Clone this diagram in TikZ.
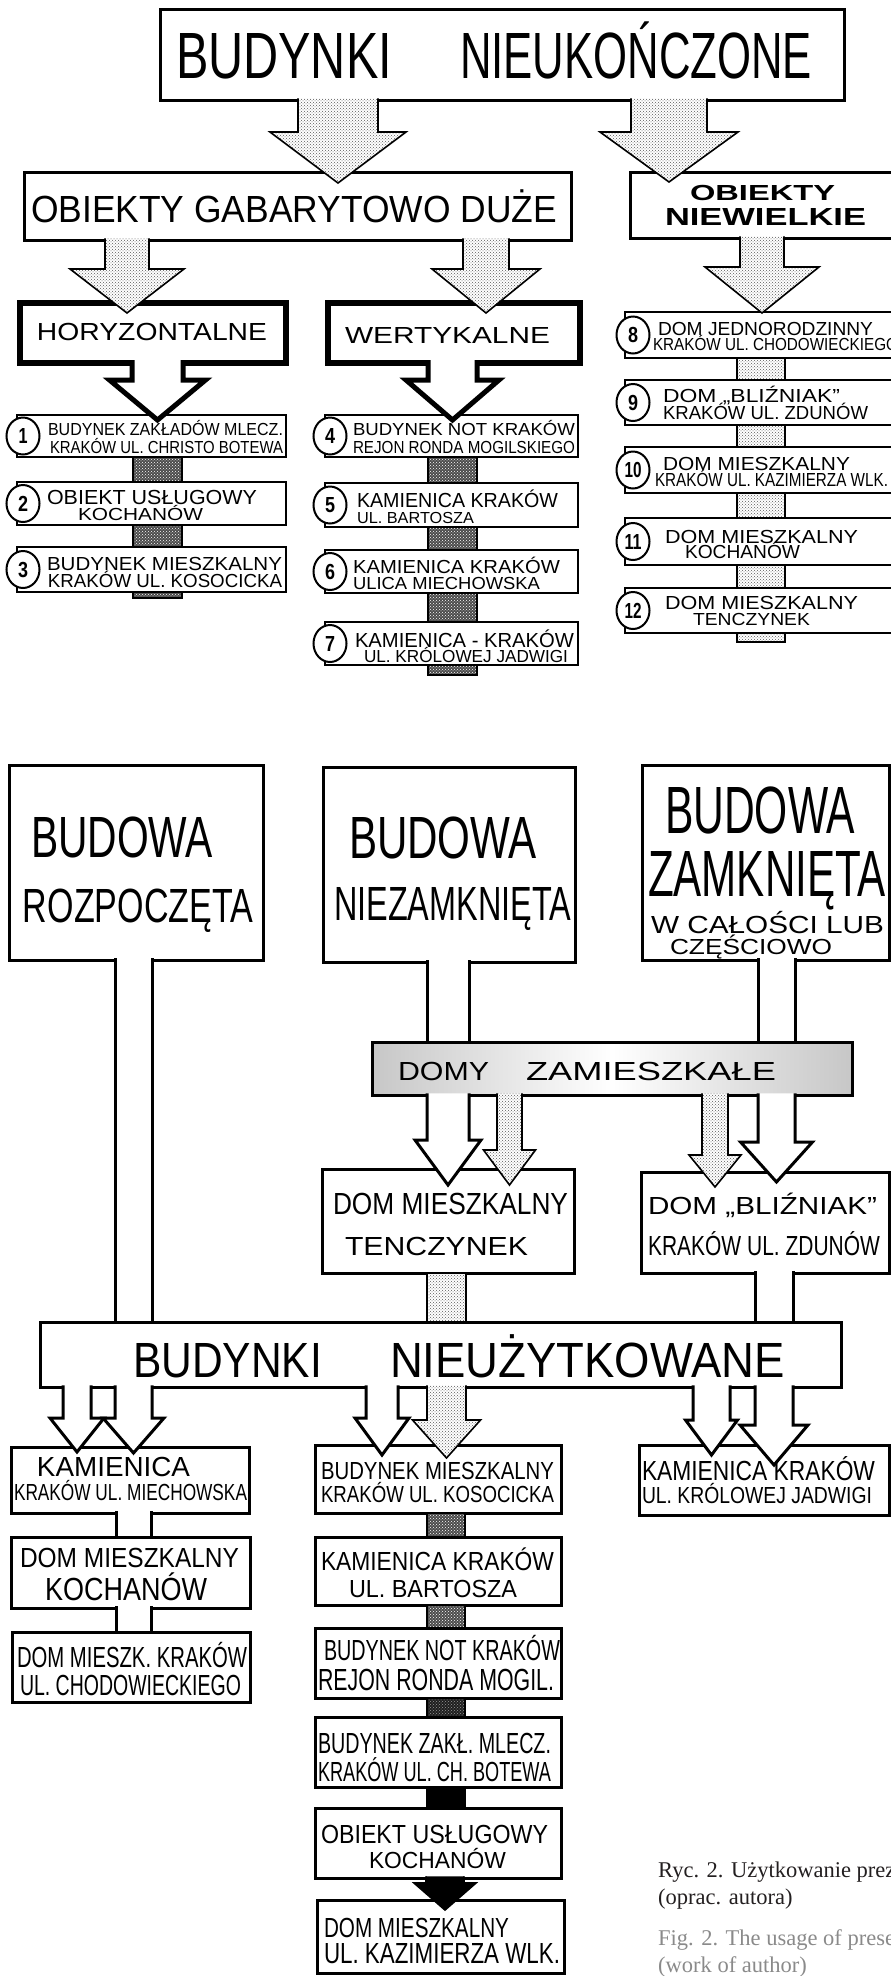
\documentclass[tikz,border=0pt]{standalone}
\usepackage{fontspec}
\newfontfamily\handfont{Liberation Sans}
\newfontfamily\captfont{Liberation Serif}
\usetikzlibrary{calc,patterns,shapes.geometric}
\definecolor{capgray}{HTML}{8A8A8A}
\definecolor{capblack}{HTML}{231F20}
\def\bo{1.7}
\newcommand{\lettr}[3]{\resizebox{#1pt}{#2pt}{\vphantom{X}\smash{#3}}}
\newcommand{\bx}[6][]{\node[box,#1,minimum width={(#5-#3)*1pt},minimum height={(#6-#4)*1pt}] (#2) at ({(#3+#5)/2},{(#4+#6)/2}) {};}
\newcommand{\tx}[7][]{\node[txt,#1] (#2) at (#3,#4) {\lettr{#5}{#6}{#7}};}
\newcommand{\barr}[8][]{\draw[#1] ($(#4-#5,0 |- #2.south)+(0,-\bo)$) -- ($(#4-#5,0 |- #3.north)+(0,#8-#7)$) -- ($(#4-#6,0 |- #3.north)+(0,#8-#7)$) -- ($(#4,0 |- #3.north)+(0,#8)$) -- ($(#4+#6,0 |- #3.north)+(0,#8-#7)$) -- ($(#4+#5,0 |- #3.north)+(0,#8-#7)$) -- ($(#4+#5,0 |- #2.south)+(0,-\bo)$);}
\newcommand{\hshaft}[4]{\fill[white] ($(#3-#4,0 |- #1.south)+(0,-\bo)$) rectangle ($(#3+#4,0 |- #2.north)+(0,-1.5)$);
  \draw[hline] ($(#3-#4,0 |- #1.south)+(0,-\bo)$) -- ($(#3-#4,0 |- #2.north)+(0,-1)$) ($(#3+#4,0 |- #1.south)+(0,-\bo)$) -- ($(#3+#4,0 |- #2.north)+(0,-1)$);}
\newcommand{\sbar}[5][]{\draw[#1] (#4-#5,0 |- #2.south) rectangle (#4+#5,0 |- #3.north);}

\begin{document}
\begin{tikzpicture}[x=1pt,y=-1pt,
  box/.style={draw,rectangle,fill=white,line width=3pt,inner sep=0pt,outer sep=0pt},
  heavybox/.style={box,line width=5.5pt},
  ibox/.style={box,line width=2.4pt},
  domybox/.style={box,left color=black!22,right color=black!22,middle color=white},
  txt/.style={inner sep=0pt,outer sep=0pt,anchor=north west,font=\handfont},
  numc/.style={ellipse,draw,fill=white,line width=2pt,minimum width=33pt,minimum height=37pt,inner sep=0pt,font=\handfont\bfseries},
  capt/.style={inner sep=0pt,anchor=base west,text=capblack,font=\captfont\fontsize{22.5}{27}\selectfont},
  stip/.style={draw,line width=1.6pt,line join=miter,preaction={fill=white},pattern=crosshatch dots,pattern color=black!65},
  dstip/.style={draw,line width=1.6pt,preaction={fill=black!70},pattern=crosshatch dots,pattern color=white},
  xstip/.style={draw,line width=1.6pt,preaction={fill=black!88},pattern=crosshatch dots,pattern color=black!40},
  blk/.style={draw,fill=black,line width=1.6pt,line join=miter},
  hollow/.style={draw,fill=white,line width=3pt,line join=miter},
  hhollow/.style={hollow,line width=5pt},
  hline/.style={line width=3pt}]
\useasboundingbox (0,0) rectangle (891,1976);
%%%%% START %%%%%
% boxes, upper scheme
\bx{top}{160}{9}{844}{100}
\bx{gab}{24}{172}{571}{240}
\bx{niew}{630}{172}{895}{238}
\bx[heavybox]{hor}{20}{303}{286}{363}
\bx[heavybox]{wer}{328}{303}{580}{363}
\bx[ibox]{it1}{17}{415}{286}{457}
\bx[ibox]{it2}{17}{482}{286}{525}
\bx[ibox]{it3}{17}{547}{286}{592}
\bx[ibox]{it4}{325}{415}{578}{457}
\bx[ibox]{it5}{325}{483}{578}{527}
\bx[ibox]{it6}{325}{550}{578}{593}
\bx[ibox]{it7}{325}{622}{578}{665}
\bx[ibox]{it8}{625}{312}{895}{358}
\bx[ibox]{it9}{625}{380}{895}{425}
\bx[ibox]{it10}{625}{447}{895}{493}
\bx[ibox]{it11}{625}{518}{895}{565}
\bx[ibox]{it12}{625}{588}{895}{633}

% boxes, lower scheme
\bx{roz}{9}{765}{263}{960}
\bx{niez}{323}{767}{575}{962}
\bx{zamk}{642}{765}{889}{960}
\bx[domybox]{domy}{372}{1042}{852}{1095}
\bx{tenc}{322}{1169}{574}{1273}
\bx{bliz}{641}{1172}{889}{1273}
\bx{nieuz}{40}{1322}{841}{1387}
\bx{miech}{11}{1447}{249}{1513}
\bx{kos}{315}{1445}{561}{1513}
\bx{jadw}{639}{1445}{889}{1515}
\bx{koch}{11}{1537}{250}{1608}
\bx{chod}{12}{1632}{250}{1702}
\bx{bart}{315}{1537}{561}{1605}
\bx{mogil}{315}{1628}{561}{1698}
\bx{botew}{315}{1717}{561}{1787}
\bx{uslug}{315}{1808}{561}{1878}
\bx{kazim}{317}{1900}{564}{1973}

% arrows, upper scheme
\barr[stip]{top}{gab}{338}{40}{68}{51}{11}
\barr[stip]{top}{niew}{669}{38}{69}{50}{10}
\barr[stip]{gab}{hor}{127}{22}{57}{44}{10}
\barr[stip]{gab}{wer}{486}{23}{54}{44}{10}
\barr[stip]{niew}{it8}{762}{22}{57}{46}{1}
\def\bo{3}
\barr[hhollow]{hor}{it1}{157.5}{25.5}{48}{40}{5}
\barr[hhollow]{wer}{it4}{452.5}{24.5}{46.5}{40}{5}
\def\bo{1.7}
\sbar[dstip]{it1}{it2}{157.5}{24.5}
\sbar[dstip]{it2}{it3}{157.5}{24.5}
\draw[dstip] (133,0 |- it3.south) rectangle (182,598);
\sbar[dstip]{it4}{it5}{452.5}{24.5}
\sbar[dstip]{it5}{it6}{452.5}{24.5}
\sbar[dstip]{it6}{it7}{452.5}{24.5}
\draw[dstip] (428,0 |- it7.south) rectangle (477,675);
\sbar[stip]{it8}{it9}{761}{24}
\sbar[stip]{it9}{it10}{761}{24}
\sbar[stip]{it10}{it11}{761}{24}
\sbar[stip]{it11}{it12}{761}{24}
\draw[stip] (737,0 |- it12.south) rectangle (785,642);

% arrows, lower scheme
\hshaft{roz}{nieuz}{133.5}{18.5}
\hshaft{niez}{domy}{448}{21}
\hshaft{zamk}{domy}{776.5}{18.5}
\barr[hollow]{domy}{tenc}{448}{21}{33}{45}{16}
\barr[stip]{domy}{tenc}{509.5}{12.5}{26}{35}{16}
\barr[hollow]{domy}{bliz}{776.5}{18.5}{36}{40}{10}
\barr[stip]{domy}{bliz}{715}{13}{26}{32}{15}
\sbar[stip]{tenc}{nieuz}{446.5}{19.5}
\hshaft{bliz}{nieuz}{774}{19}
\barr[hollow]{nieuz}{miech}{77}{14}{27}{34}{5}
\barr[hollow]{nieuz}{miech}{133.5}{18.5}{30.5}{35}{6}
\barr[hollow]{nieuz}{kos}{382}{16}{27}{37}{10}
\barr[stip]{nieuz}{kos}{446.5}{19.5}{34}{38}{13}
\barr[hollow]{nieuz}{jadw}{711.5}{18.5}{26}{35}{10}
\barr[hollow]{nieuz}{jadw}{774}{19}{34}{40}{20}
\hshaft{miech}{koch}{133.5}{17.5}
\hshaft{koch}{chod}{133.5}{17.5}
\sbar[dstip]{kos}{bart}{446}{19}
\sbar[dstip]{bart}{mogil}{446}{19}
\sbar[xstip]{mogil}{botew}{446}{19}
\sbar[blk]{botew}{uslug}{446}{19}
\barr[blk]{uslug}{kazim}{445}{19}{31}{27}{10}

% numbers
\node[numc] (c1) at (23,436) {\lettr{9}{15}{1}};
\node[numc] (c2) at (23,503.5) {\lettr{10}{15}{2}};
\node[numc] (c3) at (23,569.5) {\lettr{10}{15}{3}};
\node[numc] (c4) at (330,436) {\lettr{10}{15}{4}};
\node[numc] (c5) at (330,505) {\lettr{10}{15}{5}};
\node[numc] (c6) at (330,571.5) {\lettr{10}{15}{6}};
\node[numc] (c7) at (330,643.5) {\lettr{10}{15}{7}};
\node[numc] (c8) at (633,335) {\lettr{10}{15}{8}};
\node[numc] (c9) at (633,402.5) {\lettr{10}{15}{9}};
\node[numc] (c10) at (633,470) {\lettr{17}{15}{10}};
\node[numc] (c11) at (633,541.5) {\lettr{17}{15}{11}};
\node[numc] (c12) at (633,610.5) {\lettr{17}{15}{12}};

% texts, upper scheme
\tx{tTa}{176}{33}{216}{45}{BUDYNKI}
\tx{tTb}{460}{33}{352}{45}{NIEUKOŃCZONE}
\tx{tGab}{31}{196}{526}{26}{OBIEKTY GABARYTOWO DUŻE}
\tx[font=\handfont\bfseries]{tNwa}{690}{185}{145}{15}{OBIEKTY}
\tx[font=\handfont\bfseries]{tNwb}{665}{208}{201}{17}{NIEWIELKIE}
\tx{tHor}{37}{323}{230}{17}{HORYZONTALNE}
\tx{tWer}{345}{327}{205}{16}{WERTYKALNE}
\tx{t1a}{48}{423}{235}{12}{BUDYNEK ZAKŁADÓW MLECZ.}
\tx{t1b}{50}{441}{233}{12}{KRAKÓW UL. CHRISTO BOTEWA}
\tx{t2a}{47}{490}{210}{14}{OBIEKT USŁUGOWY}
\tx{t2b}{78}{508}{125}{12}{KOCHANÓW}
\tx{t3a}{47}{557}{235}{13}{BUDYNEK MIESZKALNY}
\tx{t3b}{48}{574}{234}{13}{KRAKÓW UL. KOSOCICKA}
\tx{t4a}{353}{423}{222}{12}{BUDYNEK NOT KRAKÓW}
\tx{t4b}{353}{441}{222}{12}{REJON RONDA MOGILSKIEGO}
\tx{t5a}{357}{493}{201}{14}{KAMIENICA KRAKÓW}
\tx{t5b}{357}{512}{117}{11}{UL. BARTOSZA}
\tx{t6a}{353}{560}{207}{13}{KAMIENICA KRAKÓW}
\tx{t6b}{353}{577}{187}{12}{ULICA MIECHOWSKA}
\tx{t7a}{355}{633}{219}{14}{KAMIENICA - KRAKÓW}
\tx{t7b}{364}{650}{204}{12}{UL. KRÓLOWEJ JADWIGI}
\tx{t8a}{658}{322}{215}{13}{DOM JEDNORODZINNY}
\tx{t8b}{653}{338}{245}{12}{KRAKÓW UL. CHODOWIECKIEGO}
\tx{t9a}{663}{389}{177}{13}{DOM „BLIŹNIAK”}
\tx{t9b}{663}{406}{205}{13}{KRAKÓW UL. ZDUNÓW}
\tx{t10a}{663}{457}{187}{13}{DOM MIESZKALNY}
\tx{t10b}{655}{473}{233}{13}{KRAKÓW UL. KAZIMIERZA WLK.}
\tx{t11a}{665}{530}{193}{13}{DOM MIESZKALNY}
\tx{t11b}{685}{545}{115}{13}{KOCHANÓW}
\tx{t12a}{665}{596}{193}{13}{DOM MIESZKALNY}
\tx{t12b}{693}{613}{117}{12}{TENCZYNEK}

% texts, lower scheme
\tx{tRa}{31}{817}{182}{40}{BUDOWA}
\tx{tRb}{23}{889}{230}{33}{ROZPOCZĘTA}
\tx{tNa}{349}{817}{188}{41}{BUDOWA}
\tx{tNb}{334}{887}{237}{33}{NIEZAMKNIĘTA}
\tx{tZa}{665}{787}{190}{46}{BUDOWA}
\tx{tZb}{648}{851}{238}{45}{ZAMKNIĘTA}
\tx{tZc}{651}{916}{233}{17}{W CAŁOŚCI LUB}
\tx{tZd}{670}{939}{162}{15}{CZĘŚCIOWO}
\tx{tDa}{398}{1062}{91}{18}{DOMY}
\tx{tDb}{526}{1062}{250}{18}{ZAMIESZKAŁE}
\tx{tTea}{333}{1193}{235}{21}{DOM MIESZKALNY}
\tx{tTeb}{345}{1237}{183}{18}{TENCZYNEK}
\tx{tBla}{648}{1197}{229}{17}{DOM „BLIŹNIAK”}
\tx{tBlb}{648}{1236}{232}{19}{KRAKÓW UL. ZDUNÓW}
\tx{tUa}{133}{1343}{189}{34}{BUDYNKI}
\tx{tUb}{390}{1343}{395}{34}{NIEUŻYTKOWANE}
\tx{tMia}{37}{1457}{153}{19}{KAMIENICA}
\tx{tMib}{14}{1484}{233}{16}{KRAKÓW UL. MIECHOWSKA}
\tx{tKoa}{321}{1462}{233}{17}{BUDYNEK MIESZKALNY}
\tx{tKob}{321}{1486}{233}{16}{KRAKÓW UL. KOSOCICKA}
\tx{tJaa}{642}{1461}{233}{19}{KAMIENICA KRAKÓW}
\tx{tJab}{642}{1487}{230}{16}{UL. KRÓLOWEJ JADWIGI}
\tx{tKca}{20}{1548}{219}{19}{DOM MIESZKALNY}
\tx{tKcb}{45}{1578}{162}{22}{KOCHANÓW}
\tx{tCha}{17}{1647}{230}{20}{DOM MIESZK. KRAKÓW}
\tx{tChb}{20}{1675}{221}{20}{UL. CHODOWIECKIEGO}
\tx{tBaa}{321}{1552}{233}{18}{KAMIENICA KRAKÓW}
\tx{tBab}{349}{1580}{168}{17}{UL. BARTOSZA}
\tx{tMoa}{324}{1640}{236}{20}{BUDYNEK NOT KRAKÓW}
\tx{tMob}{318}{1669}{236}{21}{REJON RONDA MOGIL.}
\tx{tBoa}{318}{1733}{233}{20}{BUDYNEK ZAKŁ. MLECZ.}
\tx{tBob}{318}{1762}{233}{19}{KRAKÓW UL. CH. BOTEWA}
\tx{tUsa}{321}{1825}{227}{18}{OBIEKT USŁUGOWY}
\tx{tUsb}{369}{1852}{137}{16}{KOCHANÓW}
\tx{tKza}{324}{1918}{185}{19}{DOM MIESZKALNY}
\tx{tKzb}{324}{1943}{236}{20}{UL. KAZIMIERZA WLK.}

% caption
\node[capt] (ryc) at (658,1877) {Ryc. 2. Użytkowanie prez};
\node[capt] (oprac) at (658,1904) {(oprac. autora)};
\node[capt,text=capgray] (fig) at (658,1945) {Fig. 2. The usage of prese};
\node[capt,text=capgray] (work) at (658,1972) {(work of author)};
%%%%% END %%%%%
\end{tikzpicture}
\end{document}
